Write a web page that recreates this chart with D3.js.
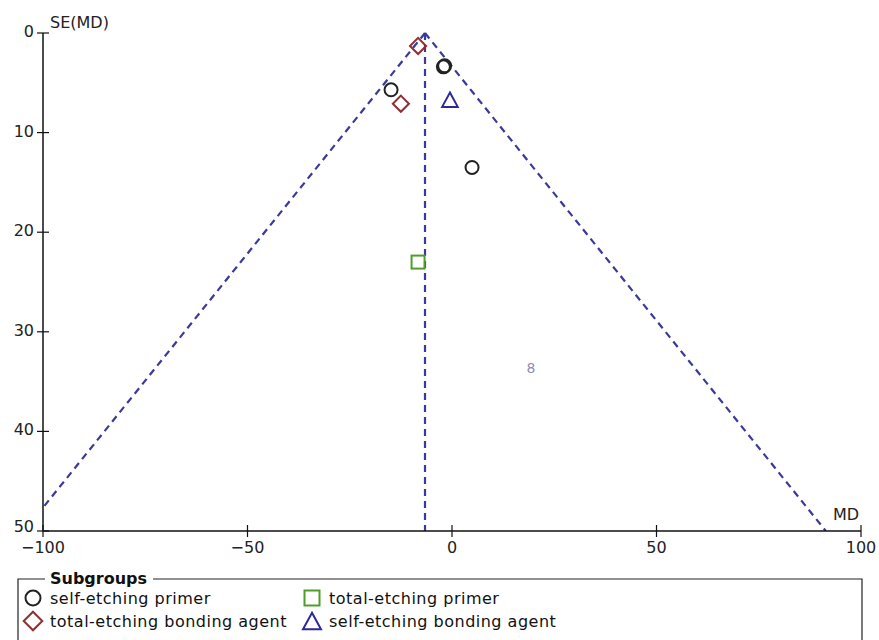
<!DOCTYPE html>
<html>
<head>
<meta charset="utf-8">
<script src="https://cdn.jsdelivr.net/npm/d3@7"></script>
<style>
  html, body { margin: 0; padding: 0; background: #fff; }
  svg { display: block; font-family: "DejaVu Sans", sans-serif; }
</style>
</head>
<body>
<svg id="chart" width="879" height="640"></svg>
<script>
// Funnel plot of mean differences (MD) against their standard errors, by subgroup
const pooledMD = -6.6;
const xTicks = [-100, -50, 0, 50, 100];
const yTicks = [0, 10, 20, 30, 40, 50];

const selfEtchingPrimer = [
  { md: -2.1, se: 3.4 },
  { md: -1.8, se: 3.3 },
  { md: -14.9, se: 5.7 },
  { md: 4.9, se: 13.5 }
];
const totalEtchingBondingAgent = [
  { md: -8.3, se: 1.3 },
  { md: -12.5, se: 7.1 }
];
const totalEtchingPrimer = [
  { md: -8.3, se: 23.0 }
];
const selfEtchingBondingAgent = [
  { md: -0.5, se: 6.7 }
];
const faintMarks = [
  { md: 19.3, se: 33.6 }
];

const subgroups = [
  { name: "self-etching primer", shape: "circle", color: "#222222", data: selfEtchingPrimer },
  { name: "total-etching bonding agent", shape: "diamond", color: "#8e2f33", data: totalEtchingBondingAgent },
  { name: "total-etching primer", shape: "square", color: "#4f9e2a", data: totalEtchingPrimer },
  { name: "self-etching bonding agent", shape: "triangle", color: "#2b2a96", data: selfEtchingBondingAgent }
];

const svg = d3.select("#chart");
const x = d3.scaleLinear().domain([-100, 100]).range([43, 861]);
const y = d3.scaleLinear().domain([0, 50]).range([33, 531]);

const lineColor = "#3a3a9c";

// clip region for funnel limits
svg.append("clipPath").attr("id", "plotClip")
  .append("rect").attr("x", x(-100)).attr("y", y(0) - 5)
  .attr("width", x(100) - x(-100)).attr("height", y(50) - y(0) + 5);

const funnel = svg.append("g").attr("clip-path", "url(#plotClip)");
const seMax = 50;
const limits = [
  [[pooledMD, 0], [pooledMD - 1.96 * seMax, seMax]],
  [[pooledMD, 0], [pooledMD + 1.96 * seMax, seMax]],
  [[pooledMD, 0], [pooledMD, seMax]]
];
funnel.selectAll("line.limit").data(limits).join("line")
  .attr("class", "limit")
  .attr("x1", d => x(d[0][0])).attr("y1", d => y(d[0][1]))
  .attr("x2", d => x(d[1][0])).attr("y2", d => y(d[1][1]))
  .attr("stroke", lineColor).attr("stroke-width", 2.2)
  .attr("stroke-dasharray", "7,5");

// axes
const axisColor = "#111";
const gy = svg.append("g");
gy.append("line").attr("x1", x(-100)).attr("x2", x(-100))
  .attr("y1", y(0)).attr("y2", y(50)).attr("stroke", axisColor).attr("stroke-width", 1.5);
gy.selectAll("line.tick").data(yTicks).join("line").attr("class", "tick")
  .attr("x1", x(-100) - 6).attr("x2", x(-100) + 6)
  .attr("y1", d => y(d)).attr("y2", d => y(d))
  .attr("stroke", axisColor).attr("stroke-width", 1.2);
gy.selectAll("text").data(yTicks).join("text")
  .attr("x", x(-100) - 9).attr("y", d => y(d) + (d === 50 ? 1 : 4))
  .attr("text-anchor", "end").attr("font-size", 16).attr("fill", "#222")
  .text(d => d3.format("d")(d));

const gx = svg.append("g");
gx.append("line").attr("x1", x(-100)).attr("x2", x(100))
  .attr("y1", y(50)).attr("y2", y(50)).attr("stroke", axisColor).attr("stroke-width", 1.5);
gx.selectAll("line.tick").data(xTicks).join("line").attr("class", "tick")
  .attr("x1", d => x(d)).attr("x2", d => x(d))
  .attr("y1", y(50) - 6).attr("y2", y(50) + 6)
  .attr("stroke", axisColor).attr("stroke-width", 1.2);
gx.selectAll("text").data(xTicks).join("text")
  .attr("x", d => x(d)).attr("y", y(50) + 22)
  .attr("text-anchor", "middle").attr("font-size", 16).attr("fill", "#222")
  .text(d => d3.format("d")(d));

svg.append("text").attr("x", 50).attr("y", 28).attr("font-size", 16).attr("fill", "#222").text("SE(MD)");
svg.append("text").attr("x", 833).attr("y", 520).attr("font-size", 16).attr("fill", "#222").text("MD");

// marker shapes
function drawShape(g, shape, color, size) {
  const s = size;
  if (shape === "circle") {
    g.append("circle").attr("r", s * 0.5).attr("fill", "none").attr("stroke", color).attr("stroke-width", 2);
  } else if (shape === "diamond") {
    const h = s * 0.62;
    g.append("path").attr("d", `M0,${-h}L${h},0L0,${h}L${-h},0Z`)
      .attr("fill", "none").attr("stroke", color).attr("stroke-width", 2);
  } else if (shape === "square") {
    const h = s * 0.5;
    g.append("rect").attr("x", -h).attr("y", -h).attr("width", 2 * h).attr("height", 2 * h)
      .attr("fill", "none").attr("stroke", color).attr("stroke-width", 2);
  } else if (shape === "triangle") {
    const w = s * 0.6, ht = s * 0.55;
    g.append("path").attr("d", `M0,${-ht}L${w},${ht}L${-w},${ht}Z`)
      .attr("fill", "none").attr("stroke", color).attr("stroke-width", 2);
  }
}

subgroups.forEach(sg => {
  sg.data.forEach(d => {
    const g = svg.append("g").attr("transform", `translate(${x(d.md)},${y(d.se)})`);
    drawShape(g, sg.shape, sg.color, 13);
  });
});

// faint overlapping markers
svg.selectAll("text.faint").data(faintMarks).join("text").attr("class", "faint")
  .attr("x", d => x(d.md)).attr("y", d => y(d.se) + 5)
  .attr("text-anchor", "middle").attr("font-size", 14).attr("fill", "#8d8db4")
  .text("8");

// legend
const lg = svg.append("g");
const lx0 = 18, lx1 = 862, ly0 = 579;
lg.append("path").attr("d", `M${lx0 + 27},${ly0}H${lx0}V660M${lx1},660V${ly0}H153`)
  .attr("fill", "none").attr("stroke", "#222").attr("stroke-width", 1.2);
lg.append("text").attr("x", 50).attr("y", 584).attr("font-size", 16).attr("font-weight", "bold")
  .attr("fill", "#111").text("Subgroups");

const legendPos = [
  { cx: 33, cy: 598 },
  { cx: 33, cy: 621 },
  { cx: 312, cy: 598 },
  { cx: 312, cy: 621 }
];
subgroups.forEach((sg, i) => {
  const p = legendPos[i];
  const g = lg.append("g").attr("transform", `translate(${p.cx},${p.cy})`);
  drawShape(g, sg.shape, sg.color, 15);
  lg.append("text").attr("x", p.cx + 17).attr("y", p.cy + 6).attr("font-size", 16)
    .attr("letter-spacing", 0.5).attr("fill", "#111").text(sg.name);
});
</script>
</body>
</html>
